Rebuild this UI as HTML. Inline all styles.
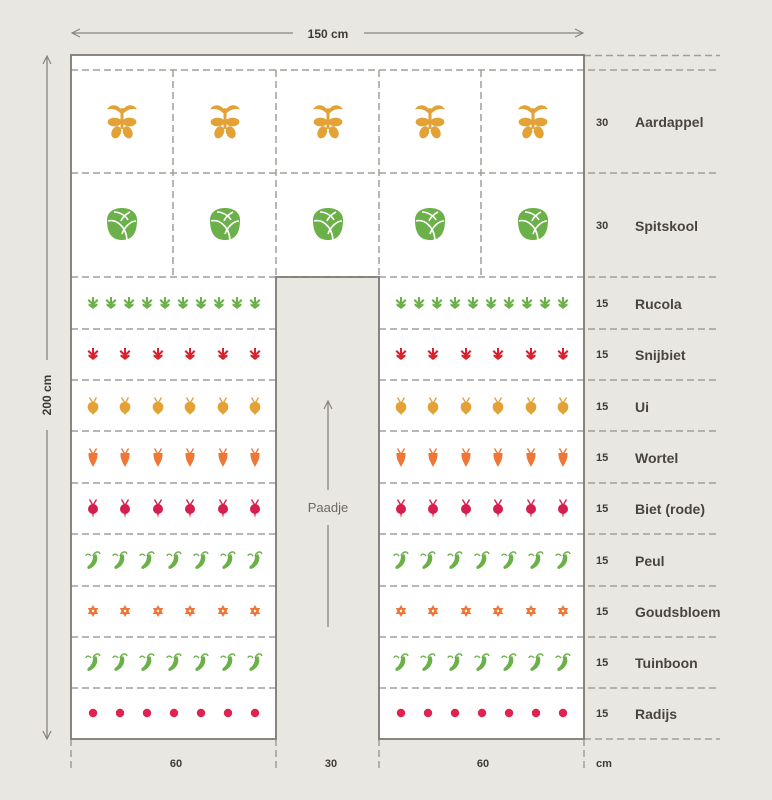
<!DOCTYPE html>
<html><head><meta charset="utf-8"><style>
html,body{margin:0;padding:0;background:#e9e7e2;}
svg{display:block;font-family:"Liberation Sans",sans-serif;}
</style></head><body>
<svg width="772" height="800" viewBox="0 0 772 800" xmlns="http://www.w3.org/2000/svg">
<defs>
<g id="pot" fill="#e3a236" transform="scale(1.15)">
 <rect x="-1.3" y="-12" width="2.6" height="18"/>
 <path d="M0,-9 C-3,-16 -10,-16 -13,-11 C-8,-12 -4,-11 0,-6Z"/>
 <path d="M0,-9 C3,-16 10,-16 13,-11 C8,-12 4,-11 0,-6Z"/>
 <ellipse cx="-6.5" cy="0" rx="6" ry="3.8"/><ellipse cx="6.5" cy="0" rx="6" ry="3.8"/>
 <ellipse cx="-5" cy="9" rx="4" ry="5.5" transform="rotate(25 -5 9)"/><ellipse cx="5" cy="9" rx="4" ry="5.5" transform="rotate(-25 5 9)"/>
</g>
<g id="cab">
 <path d="M-15,-4 C-15,12 -8,16 0,16 C8,16 15,12 15,-4 C15,-12 8,-16 0,-16 C-8,-16 -15,-12 -15,-4Z" fill="#6cb04a"/>
 <path d="M-14,-3 C-6,-5 4,2 5,16 M14,-3 C8,-3 2,4 0,10 M-8,-12 C-2,-12 4,-8 6,-4 M8,-12 C4,-10 0,-6 -1,-3" stroke="#fff" stroke-width="1.6" fill="none"/>
</g>
<path id="ruc" d="M-1,-6 h2 v5 l3,-3 l1.5,1.5 l-4,4 l3,-1 v2 l-4.5,3.5 l-4.5,-3.5 v-2 l3,1 l-4,-4 l1.5,-1.5 l3,3Z" fill="#6cb04a"/>
<path id="snij" d="M-1,-6 h2 v5 l3,-3 l1.5,1.5 l-4,4 l3,-1 v2 l-4.5,3.5 l-4.5,-3.5 v-2 l3,1 l-4,-4 l1.5,-1.5 l3,3Z" fill="#d7222c"/>
<g id="ui" fill="#e3a236"><path d="M-3,-9 L0,-4 L3,-9 L4,-8 L1,-3 h-2 L-4,-8Z"/><path d="M0,-4 C5,-4 6,0 5,3 C4,6 1,7 0,9 C-1,7 -4,6 -5,3 C-6,0 -5,-4 0,-4Z"/></g>
<g id="wor" fill="#ee7636"><path d="M-3,-9 L0,-4 L3,-9 L4,-8 L1,-3 h-2 L-4,-8Z"/><path d="M-4.5,-4 h9 C5,2 2,6 0,10 C-2,6 -5,2 -4.5,-4Z"/></g>
<g id="biet" fill="#d61f4c"><path d="M-3,-9 L0,-4 L3,-9 L4,-8 L1,-3 h-2 L-4,-8Z"/><circle cx="0" cy="1" r="5"/><path d="M-1,5 h2 L0,10Z"/></g>
<g id="peul" fill="#6cb04a"><path d="M3,-6 C6,-2 4,6 -4,9 C-6,9 -6,7 -5,6 C-1,3 0,-1 0,-4Z"/><path d="M0,-4 C2,-9 6,-9 7,-6" stroke="#6cb04a" stroke-width="1.4" fill="none"/><path d="M-2,-4 C-4,-7 -7,-6 -7,-4" stroke="#6cb04a" stroke-width="1.2" fill="none"/></g>
<g id="gb" fill="#ee7636"><path d="M0,-6 L1.8,-3 L5.2,-3 L3.5,0 L5.2,3 L1.8,3 L0,6 L-1.8,3 L-5.2,3 L-3.5,0 L-5.2,-3 L-1.8,-3Z"/><circle r="1.2" fill="#fff"/></g>
<circle id="rad" r="4.2" fill="#e0234e"/>
<g id="rows">
 <g transform="translate(0,303)"><use href="#ruc" x="93"/><use href="#ruc" x="111"/><use href="#ruc" x="129"/><use href="#ruc" x="147"/><use href="#ruc" x="165"/><use href="#ruc" x="183"/><use href="#ruc" x="201"/><use href="#ruc" x="219"/><use href="#ruc" x="237"/><use href="#ruc" x="255"/></g>
 <g transform="translate(0,354)"><use href="#snij" x="93"/><use href="#snij" x="125"/><use href="#snij" x="158"/><use href="#snij" x="190"/><use href="#snij" x="223"/><use href="#snij" x="255"/></g>
 <g transform="translate(0,406)"><use href="#ui" x="93"/><use href="#ui" x="125"/><use href="#ui" x="158"/><use href="#ui" x="190"/><use href="#ui" x="223"/><use href="#ui" x="255"/></g>
 <g transform="translate(0,457)"><use href="#wor" x="93"/><use href="#wor" x="125"/><use href="#wor" x="158"/><use href="#wor" x="190"/><use href="#wor" x="223"/><use href="#wor" x="255"/></g>
 <g transform="translate(0,508)"><use href="#biet" x="93"/><use href="#biet" x="125"/><use href="#biet" x="158"/><use href="#biet" x="190"/><use href="#biet" x="223"/><use href="#biet" x="255"/></g>
 <g transform="translate(0,560)"><use href="#peul" x="93"/><use href="#peul" x="120"/><use href="#peul" x="147"/><use href="#peul" x="174"/><use href="#peul" x="201"/><use href="#peul" x="228"/><use href="#peul" x="255"/></g>
 <g transform="translate(0,611)"><use href="#gb" x="93"/><use href="#gb" x="125"/><use href="#gb" x="158"/><use href="#gb" x="190"/><use href="#gb" x="223"/><use href="#gb" x="255"/></g>
 <g transform="translate(0,662)"><use href="#peul" x="93"/><use href="#peul" x="120"/><use href="#peul" x="147"/><use href="#peul" x="174"/><use href="#peul" x="201"/><use href="#peul" x="228"/><use href="#peul" x="255"/></g>
 <g transform="translate(0,713)"><use href="#rad" x="93"/><use href="#rad" x="120"/><use href="#rad" x="147"/><use href="#rad" x="174"/><use href="#rad" x="201"/><use href="#rad" x="228"/><use href="#rad" x="255"/></g>
</g>
<marker id="ah" markerWidth="10" markerHeight="10" refX="9" refY="5" orient="auto-start-reverse" markerUnits="userSpaceOnUse"><path d="M1,1 L9,5 L1,9" fill="none" stroke="#8a847e" stroke-width="1.2"/></marker>
</defs>

<rect x="71" y="55" width="513" height="684" fill="#fff"/>
<rect x="276" y="277" width="103" height="462" fill="#e9e7e2"/>

<g stroke="#a39d97" stroke-width="1.5" stroke-dasharray="7,4" fill="none">
 <path d="M584,55.5 H720 M71,70 H720 M71,173 H720 M71,277 H720 M584,739 H720"/>
 <path d="M71,329 H276 M379,329 H720 M71,380 H276 M379,380 H720 M71,431 H276 M379,431 H720 M71,483 H276 M379,483 H720 M71,534 H276 M379,534 H720 M71,586 H276 M379,586 H720 M71,637 H276 M379,637 H720 M71,688 H276 M379,688 H720"/>
 <path d="M173,70 V277 M276,70 V277 M379,70 V277 M481,70 V277"/>
 <path d="M71,739 V770 M276,739 V770 M379,739 V770 M584,739 V770"/>
</g>
<g stroke="#7f7871" stroke-width="1.8" fill="none">
 <path d="M71,55 V739 H276 V277 H379 V739 H584 V55 Z"/>
</g>

<use href="#pot" x="122" y="122"/><use href="#pot" x="225" y="122"/><use href="#pot" x="328" y="122"/><use href="#pot" x="430" y="122"/><use href="#pot" x="533" y="122"/>
<use href="#cab" x="122" y="224"/><use href="#cab" x="225" y="224"/><use href="#cab" x="328" y="224"/><use href="#cab" x="430" y="224"/><use href="#cab" x="533" y="224"/>

<use href="#rows"/>
<use href="#rows" x="308"/>

<g stroke="#8a847e" stroke-width="1.3" fill="none">
 <path d="M72,33 H293" marker-start="url(#ah)"/>
 <path d="M364,33 H583" marker-end="url(#ah)"/>
 <path d="M47,56 V360" marker-start="url(#ah)"/>
 <path d="M47,430 V739" marker-end="url(#ah)"/>
 <path d="M328,401 V490" marker-start="url(#ah)"/>
 <path d="M328,525 V627"/>
</g>
<g fill="#3f3a36" font-weight="bold">
 <text x="328" y="38" font-size="12" text-anchor="middle">150 cm</text>
 <text transform="translate(51,395) rotate(-90)" font-size="12" text-anchor="middle">200 cm</text>
 <text x="176" y="767" font-size="11" text-anchor="middle">60</text>
 <text x="331" y="767" font-size="11" text-anchor="middle">30</text>
 <text x="483" y="767" font-size="11" text-anchor="middle">60</text>
 <text x="596" y="767" font-size="11">cm</text>
</g>
<text x="328" y="512" font-size="13" fill="#6e6862" text-anchor="middle">Paadje</text>

<g fill="#3f3a36" font-weight="bold">
 <g font-size="11">
  <text x="596" y="126">30</text><text x="596" y="229">30</text>
  <text x="596" y="307">15</text><text x="596" y="358">15</text><text x="596" y="410">15</text>
  <text x="596" y="461">15</text><text x="596" y="512">15</text><text x="596" y="564">15</text>
  <text x="596" y="615">15</text><text x="596" y="666">15</text><text x="596" y="717">15</text>
 </g>
 <g font-size="14" fill="#4a4440">
  <text x="635" y="127">Aardappel</text><text x="635" y="231">Spitskool</text>
  <text x="635" y="309">Rucola</text><text x="635" y="360">Snijbiet</text><text x="635" y="412">Ui</text>
  <text x="635" y="463">Wortel</text><text x="635" y="514">Biet (rode)</text><text x="635" y="566">Peul</text>
  <text x="635" y="617">Goudsbloem</text><text x="635" y="668">Tuinboon</text><text x="635" y="719">Radijs</text>
 </g>
</g>
</svg>
</body></html>
